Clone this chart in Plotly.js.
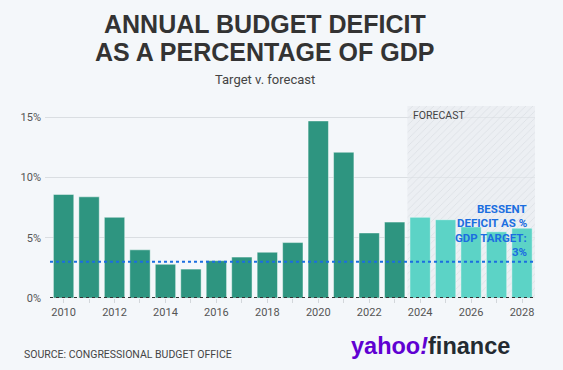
<!DOCTYPE html>
<html>
<head>
<meta charset="utf-8">
<script src="https://cdn.plot.ly/plotly-3.0.1.min.js"></script>
<style>
html,body{margin:0;padding:0;background:#f4f7fa;}
#chart{width:563px;height:370px;}
</style>
</head>
<body>
<div id="chart"></div>
<script>
// ---- data ----
const histYears = [2010,2011,2012,2013,2014,2015,2016,2017,2018,2019,2020,2021,2022,2023];
const histValues = [8.6,8.4,6.7,4.0,2.8,2.4,3.1,3.4,3.8,4.6,14.7,12.1,5.4,6.3];
const forecastYears = [2024,2025,2026,2027,2028];
const forecastValues = [6.7,6.5,5.9,5.5,5.8];
const targetValue = 3;
const targetLines = ['BESSENT','DEFICIT AS %','GDP TARGET:','3%'];
const yTickVals = [0,5,10,15];
const yTickLabels = ['0%','5%','10%','15%'];
const xTickLabels = ['2010','2012','2014','2016','2018','2020','2022','2024','2026','2028'];

const allYears = histYears.concat(forecastYears);
const xTickText = allYears.map(y => xTickLabels.includes(String(y)) ? String(y) : '');

const W = 563, H = 370, M = {l:45, r:28, t:106, b:72};
const PW = W - M.l - M.r, PH = H - M.t - M.b;
const px = v => (v - M.l) / PW;          // page pixel -> paper x
const py = v => (H - M.b - v) / PH;      // page pixel -> paper y

const xMin = 2009.27, xMax = 2028.51, yMax = 15.94;
const fStart = forecastYears[0] - 0.5;

const traces = [
  { // forecast background band (hatched)
    type:'bar', x:[(fStart + xMax)/2], y:[yMax], width:[xMax - fStart],
    marker:{color:'rgba(228,232,236,0.55)', line:{width:0},
      pattern:{shape:'/', fgcolor:'rgba(205,210,216,0.55)', bgcolor:'rgba(230,234,238,0.6)', size:5, solidity:0.15}},
    hoverinfo:'skip', showlegend:false
  },
  {
    type:'bar', x:histYears, y:histValues, width:0.8,
    marker:{color:'#2e9580', line:{color:'rgba(255,255,255,0.45)', width:1}},
    hoverinfo:'skip', showlegend:false
  },
  {
    type:'bar', x:forecastYears, y:forecastValues, width:0.8,
    marker:{color:'#5cd3c6', line:{color:'rgba(255,255,255,0.45)', width:1}},
    hoverinfo:'skip', showlegend:false
  }
];

const annotations = [
  {xref:'paper', yref:'paper', x:px(264.7), y:py(24), text:'ANNUAL BUDGET DEFICIT', showarrow:false,
   xanchor:'center', yanchor:'middle', font:{family:'Liberation Sans, Arial, sans-serif', size:25, color:'#333', weight:700}},
  {xref:'paper', yref:'paper', x:px(264.7), y:py(52), text:'AS A PERCENTAGE OF GDP', showarrow:false,
   xanchor:'center', yanchor:'middle', font:{family:'Liberation Sans, Arial, sans-serif', size:25, color:'#333', weight:700}},
  {xref:'paper', yref:'paper', x:px(264.7), y:py(79), text:'Target v. forecast', showarrow:false,
   xanchor:'center', yanchor:'middle', font:{family:'Roboto, sans-serif', size:13, color:'#444'}},
  {xref:'x', yref:'paper', x:fStart, y:py(115), text:'FORECAST', showarrow:false,
   xanchor:'left', yanchor:'middle', xshift:4, font:{family:'Liberation Sans Narrow, Roboto, sans-serif', size:10.5, color:'#444'}},
  {xref:'paper', yref:'paper', x:px(22), y:py(354), text:'SOURCE: CONGRESSIONAL BUDGET OFFICE', showarrow:false,
   xanchor:'left', yanchor:'middle', font:{family:'Roboto, sans-serif', size:10.5, color:'#444'}},
  {xref:'paper', yref:'paper', x:px(349), y:py(346),
   text:'<span style="color:#6001d2">yahoo<i>!</i></span><span style="color:#232a31">finance</span>', showarrow:false,
   xanchor:'left', yanchor:'middle', font:{family:'Liberation Sans, Arial, sans-serif', size:23.5, weight:700}}
];
targetLines.forEach((t, i) => annotations.push({
  xref:'paper', yref:'paper', x:px(529), y:py(209 + i * 14.3), text:t, showarrow:false,
  xanchor:'right', yanchor:'middle', align:'right',
  font:{family:'Liberation Sans Narrow, Roboto, sans-serif', size:11.5, color:'#1b6ee0', weight:700}
}));

const layout = {
  width:W, height:H,
  paper_bgcolor:'#f4f7fa', plot_bgcolor:'#f4f7fa',
  margin:M,
  barmode:'overlay',
  font:{family:'Roboto, Liberation Sans, sans-serif', color:'#555'},
  xaxis:{
    range:[xMin, xMax], tickvals:allYears, ticktext:xTickText,
    ticks:'outside', ticklen:4, tickcolor:'#d3d7db', tickwidth:1,
    showgrid:false, zeroline:false, showline:false,
    tickfont:{size:11, color:'#555', family:'Roboto, sans-serif'}
  },
  yaxis:{
    range:[0, yMax], tickvals:yTickVals, ticktext:yTickLabels,
    showgrid:true, gridcolor:'#dadee2', gridwidth:1, zeroline:false, showline:false,
    ticks:'', ticklabelstandoff:3,
    tickfont:{size:11, color:'#555', family:'Roboto, sans-serif'}
  },
  shapes:[
    {type:'line', xref:'paper', yref:'y', x0:px(50), x1:1, y0:targetValue, y1:targetValue,
     line:{color:'#1b6ee0', width:2, dash:'dot'}},
    {type:'line', xref:'paper', yref:'y', x0:px(50), x1:1, y0:0, y1:0,
     line:{color:'#333', width:2, dash:'dot'}}
  ],
  annotations: annotations
};

Plotly.newPlot('chart', traces, layout, {displayModeBar:false, staticPlot:true});
</script>
</body>
</html>
